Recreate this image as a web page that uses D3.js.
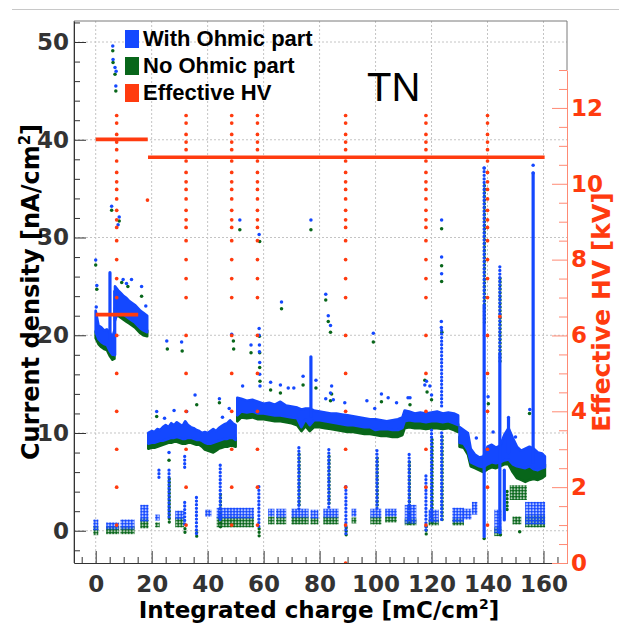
<!DOCTYPE html>
<html>
<head>
<meta charset="utf-8">
<script src="https://cdn.jsdelivr.net/npm/d3@7"></script>
<style>
  body { margin: 0; background: #fff; }
  svg text { font-family: "DejaVu Sans", sans-serif; }
</style>
</head>
<body>
<div class="viz"></div>
<script>
/* tick labels */
const xTicks = [0, 20, 40, 60, 80, 100, 120, 140, 160];
const yTicks = [0, 10, 20, 30, 40, 50];
const hvTicks = [0, 2, 4, 6, 8, 10, 12];

/* dense bands of points: [charge, low, high] per segment */
const blueBands = [
  [[0,20.3,22.5],[1,19.6,21.0],[2,19.3,20.8],[3,19.1,20.5],[4,19.0,20.6],[5,18.4,20.3],[6,18.0,19.8],[6.7,18.0,20.5]],
  [[6.9,21.5,25.0],[8,22.5,24.6],[9,22.3,24.3],[10,22.1,24.0],[11,21.9,23.8],[12,21.7,23.5],[13,21.5,23.3],[14,21.3,23.1],[15,21.0,22.8],[16,20.7,22.5],[17,20.5,22.3],[18.4,20.3,22.0]],
  [[18.8,8.9,10.0],[20,9.0,10.2],[21,9.0,10.1],[22,9.1,10.4],[23,9.2,10.3],[24,9.2,10.6],[25,9.3,10.8],[26,9.4,10.6],[27,9.5,11.0],[28,9.5,10.8],[29,9.6,11.1],[30,9.5,10.9],[31,9.4,10.7],[32,9.4,11.2],[33,9.5,10.8],[34,9.5,10.6],[35,9.4,10.5],[36,9.3,10.3],[37,9.3,10.2],[38,9.2,10.0],[39,9.0,10.1],[40,8.9,10.0],[41,8.9,10.2],[42,9.0,10.4],[43,9.1,10.2],[44,9.2,10.5],[45,9.3,10.7],[46,9.4,10.9],[47,9.4,11.0],[48,9.5,11.3],[49,9.5,11.0],[50,9.3,10.8]],
  [[50.6,11.8,13.6],[52,12.2,13.5],[54,12.1,13.3],[56,12.2,13.4],[58,12.0,13.2],[60,12.0,13.0],[62,11.9,13.1],[64,11.8,12.9],[66,11.8,13.2],[68,11.7,12.8],[70,11.6,12.7],[72,11.5,12.6],[73.5,10.6,12.4],[75,11.4,12.5],[76.5,10.8,12.5],[78,11.3,12.3],[80,11.3,12.2],[82,11.2,12.1],[84,11.1,12.0],[86,11.0,12.0],[88,10.9,11.9],[90,10.8,11.8],[92,10.8,11.7],[94,10.7,11.6],[96,10.6,11.5],[98,10.6,11.4],[100,10.3,11.4],[102,10.4,11.3],[104,10.4,11.2],[106,10.3,11.3],[108,10.3,11.4],[109.6,10.5,11.6],[110.4,11.2,12.3],[112,11.3,12.2],[114,11.2,12.0],[116,11.2,12.1],[118,11.1,12.0],[120,11.2,12.1],[122,11.2,12.2],[124,11.1,12.0],[126,11.2,12.1],[128,11.0,12.0],[129.5,10.8,11.8]],
  [[130,9.0,10.6],[131.5,8.9,10.3],[133,8.2,10.0],[134,7.0,8.4],[135.5,6.8,7.8],[137,6.6,7.5],[138.5,6.5,7.6],[140,6.8,8.6],[141.5,7.0,8.8],[143,6.9,8.5],[144.5,7.0,8.7],[146,7.2,9.8],[147.5,7.3,10.5],[149,6.8,9.5],[150.5,6.6,8.6],[152,6.5,8.2],[153.5,6.4,8.4],[155,6.6,8.6],[156.5,6.3,8.4],[158,6.2,8.0],[159.5,6.4,7.9],[160.5,6.5,7.6]]
];
const greenBands = [
  [[0,19.7,20.4],[1,19.1,19.8],[2,18.8,19.5],[3,18.6,19.3],[4,18.5,19.2],[5,17.9,18.6],[6,17.5,18.2],[6.7,17.6,18.4]],
  [[6.9,21.9,22.8],[8,22.0,22.7],[9,21.8,22.5],[10,21.6,22.3],[11,21.4,22.1],[12,21.2,21.9],[13,21.0,21.7],[14,20.8,21.5],[15,20.5,21.2],[16,20.2,20.9],[17,20.0,20.7],[18.4,19.9,20.5]],
  [[18.8,8.4,9.0],[20,8.5,9.1],[21,8.5,9.1],[22,8.6,9.2],[23,8.7,9.3],[24,8.8,9.4],[25,8.9,9.5],[26,9.0,9.6],[27,9.0,9.7],[28,9.1,9.7],[29,9.1,9.8],[30,9.0,9.7],[31,8.9,9.6],[32,8.9,9.6],[33,9.0,9.6],[34,9.0,9.6],[35,8.9,9.5],[36,8.8,9.4],[37,8.8,9.4],[38,8.6,9.3],[39,8.3,9.1],[40,8.2,9.0],[41,8.1,9.0],[42,8.0,9.1],[43,8.2,9.1],[44,8.4,9.2],[45,8.5,9.3],[46,8.6,9.4],[47,8.6,9.5],[48,8.7,9.6],[49,8.7,9.6],[50,8.6,9.5]],
  [[50.6,11.2,12.3],[52,11.6,12.5],[54,11.5,12.4],[56,11.6,12.5],[58,11.4,12.3],[60,11.4,12.2],[62,11.3,12.1],[64,11.2,12.0],[66,11.2,12.0],[68,11.1,11.9],[70,11.0,11.8],[72,10.8,11.7],[73.5,10.2,11.2],[75,10.7,11.6],[76.5,10.2,11.4],[78,10.6,11.5],[80,10.6,11.4],[82,10.5,11.3],[84,10.4,11.2],[86,10.3,11.1],[88,10.2,11.0],[90,10.1,10.9],[92,10.1,10.9],[94,10.0,10.8],[96,9.9,10.7],[98,9.9,10.7],[100,9.8,10.6],[102,9.7,10.5],[104,9.7,10.5],[106,9.6,10.4],[108,9.6,10.5],[109.6,9.8,10.7],[110.4,10.5,11.4],[112,10.6,11.4],[114,10.5,11.3],[116,10.5,11.3],[118,10.4,11.2],[120,10.5,11.3],[122,10.5,11.3],[124,10.4,11.2],[126,10.5,11.3],[128,10.3,11.1],[129.5,10.1,10.9]],
  [[130,8.6,9.6],[131.5,8.5,9.4],[133,7.8,9.2],[134,6.6,7.4],[135.5,6.4,7.2],[137,6.2,7.0],[138.5,6.0,6.9],[140,6.3,7.6],[141.5,6.5,7.7],[143,6.4,7.5],[144.5,6.6,7.6],[146,6.8,8.2],[147.5,6.8,8.6],[149,6.0,7.8],[150.5,5.4,7.2],[152,5.2,7.0],[153.5,5.0,6.8],[155,5.2,7.0],[156.5,5.3,7.3],[158,5.2,7.0],[159.5,5.4,6.9],[160.5,5.6,6.8]]
];

/* low clusters (HV off): [from, to, low, high] */
const blueClusters = [[-0.3,0.4,0.2,1.0],[4.3,7.8,0.3,0.7],[9.4,13.3,0.3,1.0],[16.5,18.3,1.1,2.5],[21.8,22.3,1.2,1.5],[29,31,1.3,1.9],[39.7,40.8,1.6,2.0],[43.8,56,1.4,2.2],[62.2,63.3,1.6,2.1],[65,67.5,1.5,2.1],[70.5,75.5,1.5,2.1],[77.3,79,1.4,2.0],[81.9,86.2,1.5,2.1],[92,92.6,1.6,2.1],[98.7,101.5,1.5,2.1],[104,107,1.6,2.1],[111,114,0.9,2.5],[119.5,122,1.0,2.0],[128,131,1.0,2.2],[131.5,133.7,1.3,2.1],[135,135.8,1.8,2.8],[143,144.4,-0.1,2.0],[154,160,0.8,2.8]];
const greenClusters = [[-0.3,0.4,-0.3,0.3],[4.3,7.8,-0.2,0.3],[9.4,13.3,-0.2,0.3],[16.5,18.3,0.4,1.1],[21.8,22.3,0.5,0.7],[29,31,0.5,1.2],[43.8,56,0.5,1.3],[62.2,63.3,0.8,1.3],[65,67.5,0.8,1.3],[70.5,75.5,0.8,1.3],[77.3,79,0.8,1.2],[81.9,86.2,0.8,1.3],[92,92.6,0.9,1.2],[98.7,101.5,0.8,1.3],[104,107,1.0,1.3],[111,114,0.7,1.1],[119.5,122,0.7,1.0],[128,131,0.7,1.1],[143,144.4,-0.4,0.2],[149.5,151.5,0.8,1.3],[154,160,0.5,1.4],[148.5,153.5,3.3,4.5]];

/* vertical runs: [charge, low, high] */
const blueCols = [[5.1,19.5,26.4],[6.8,18.0,24.5],[76.9,11.7,17.8],[138.8,-0.6,23],[144.4,-0.2,18],[156.3,7,36.6],[147.5,8,11.6],[146,1.1,6.2]];
const blueDotCols = [[138.8,23,37.1],[144.4,18,27],[123.6,12.4,20.5],[123.6,0.8,10.0],[120,0.8,10.3],[22.6,5.2,6.2],[26.2,1.1,6.2],[31.8,6.2,7.6],[31.8,0.4,2.9],[36,-0.6,3.4],[44.5,1.1,6.7],[58.3,0.1,4.5],[72.6,2.1,8.5],[83.3,2.1,8.3],[89.4,-0.4,4.5],[100.5,2.1,8.2],[112,0.9,7.8],[118,-0.2,5.6]];
const greenDotCols = [[138.9,21,35.5],[144.5,17,26],[26.3,0.6,5.5],[31.9,-0.5,0.4],[36.1,-0.9,0],[44.6,0.4,3.9],[58.4,-0.6,0.4],[72.7,2.5,8.0],[83.4,2.5,7.8],[89.5,-0.6,0.5],[100.6,2.5,7.6],[118.1,-0.4,0.6],[120.2,0.6,9.5],[123.8,1.0,9.8],[147,2.1,4.2],[112.1,0.7,7.2]];

/* single points: [charge, current density] */
const bluePts = [[6.1,49.6],[6.2,48.2],[6.9,47.4],[7.3,47.0],[7.2,45.5],[5.7,33.2],[8.4,32.1],[8.0,31.3],
  [0,27.7],[0.4,25.1],[9.8,25.7],[11,25.3],[12.8,25.7],[16.4,25.0],[17.9,23.0],[0.2,22.9],
  [25.4,19.4],[30.7,19.3],[48.6,20.1],[21.8,12.2],[28,12.3],[32.5,12.2],[35.5,13.9],[44.2,13.5],[47.7,12.5],[52.5,14.8],[26.2,8.0],[45.3,11.6],[24.6,11.5],
  [51.5,31.8],[58.4,30.3],[76.9,31.8],
  [55.5,19.0],[62.5,15.2],[66,14.9],[68.8,14.6],[70.8,14.6],[74.1,15.8],[78.7,15.4],[82.2,13.5],[83.9,14.1],[96.9,13.3],[99.2,20.2],[102.1,14.0],[104.5,13.6],[107.5,13.1],[111.6,13.6],[84.3,14.8],[84.9,13.4],[89,13.1],[99.7,12.5],[112.3,13.6],
  [66.4,23.4],[82.2,24.2],[83.1,22.0],[83.9,21.0],
  [58.4,20.7],[58.4,20.0],[58.5,19.0],[58.5,18.3],[58.6,17.2],[58.6,16.0],[58.7,14.8],
  [117.6,14.9],[119.4,14.8],[120,13.9],[118.2,15.3],
  [123.5,21.4],[123.5,20.8],[123.6,26.3],[123.6,28.0],[123.6,31.8],
  [156.3,37.4],[156.3,36.6],[138.8,37.1],[155.1,12.4],[140.2,13.7],[136,9.5],[142,10.1],[150,9.6]];
const greenPts = [[6.1,49.1],[6.2,47.9],[6.9,46.7],[7.2,45.0],[5.7,32.8],[8.4,31.7],
  [0,27.2],[0.4,24.7],[9.3,25.4],[11.5,25.0],[16.4,24.0],
  [25.6,18.6],[30.9,18.4],[49.2,19.4],[49.3,18.6],[21.8,11.7],[36.1,12.9],[44.2,13.1],[26.2,7.2],
  [51.5,30.8],[58.6,29.6],[76.9,30.8],
  [55.5,18.2],[62.5,14.4],[66,14.1],[74.1,14.9],[78.7,14.6],[83.9,13.3],[99.2,19.3],[102.1,13.2],[84.3,14.0],[112.3,12.9],
  [66.4,22.7],[82.2,23.6],[83.1,21.4],[83.9,20.3],
  [58.5,19.9],[58.6,18.2],[58.6,16.7],[58.7,15.3],
  [117.6,15.4],[118.4,14.2],[120,13.4],
  [123.6,25.5],[123.6,27.1],[123.6,30.9],[123.7,20.3],
  [140.3,13.0],[155,12.0],[151.5,-0.1],[138.8,-0.8],[144.6,-0.4]];

/* effective HV [kV] */
const hvLines = [[0,18.6,11.17],[0,15.2,6.55],[18.7,160.4,10.7]];
const hvRampCharges = [7.5, 32.3, 48.6, 57.8, 89.3, 118, 140];
const hvRamp = [1,2,3,4,5,6,7,7.5,8,8.5,8.85,9.05,9.3,9.6,9.85,10.05,10.3,10.6,10.9,11.1,11.3,11.6,11.8];
const hvPts = [[89.3,0],[18.5,9.57],[144.4,6.5]];

const blue = "#1448ff", green = "#08661a", red = "#ff3b0f";

var svg = d3.select(".viz")
  .append("svg")
  .attr("width", 619)
  .attr("height", 624);

/* scales */
var x = d3.scaleLinear().domain([-7.75, 168.4]).range([74, 567]);
var y = d3.scaleLinear().domain([-3.3, 52.15]).range([563, 21]);
var yHV = d3.scaleLinear().domain([0, 13]).range([563, 70]);

svg.append("line")
  .attr("x1", 12).attr("x2", 619).attr("y1", 9.5).attr("y2", 9.5)
  .attr("stroke", "#c8c8c8");

var defs = svg.append("defs");
defs.append("clipPath").attr("id", "frameclip")
  .append("rect").attr("x", 74).attr("y", 21).attr("width", 493).attr("height", 542);
// speckled fill for the sparse clusters
[["dots-blue", blue], ["dots-green", green]].forEach(function (p) {
  var pat = defs.append("pattern").attr("id", p[0])
    .attr("width", 3.1).attr("height", 3.0).attr("patternUnits", "userSpaceOnUse");
  pat.append("circle").attr("cx", 1.55).attr("cy", 1.5).attr("r", 1.5).attr("fill", p[1]);
});

/* grid */
var grid = svg.append("g").attr("stroke", "#c4c4c4").attr("stroke-dasharray", "2,2");
grid.selectAll("line.gx").data(xTicks).enter().append("line")
  .attr("x1", d => x(d)).attr("x2", d => x(d)).attr("y1", 21).attr("y2", 563);
grid.selectAll("line.gy").data(yTicks).enter().append("line")
  .attr("x1", 74).attr("x2", 567).attr("y1", d => y(d)).attr("y2", d => y(d));

var plot = svg.append("g").attr("clip-path", "url(#frameclip)");

function drawSeries(bands, clusters, cols, dotCols, pts, color, pattern, phase) {
  var g = plot.append("g");
  var area = d3.area().x(d => x(d[0])).y0(d => y(d[1])).y1(d => y(d[2]));
  g.selectAll("path").data(bands).enter().append("path")
    .attr("d", area)
    .attr("fill", color).attr("stroke", color)
    .attr("stroke-width", 2.6).attr("stroke-linejoin", "round");
  g.selectAll("rect").data(clusters).enter().append("rect")
    .attr("x", d => x(d[0]) - 1.6).attr("width", d => x(d[1]) - x(d[0]) + 3.2)
    .attr("y", d => y(d[3]) - 1.5).attr("height", d => y(d[2]) - y(d[3]) + 3)
    .attr("fill", "url(#" + pattern + ")");
  g.selectAll("line.col").data(cols).enter().append("line")
    .attr("class", "col")
    .attr("x1", d => x(d[0])).attr("x2", d => x(d[0]))
    .attr("y1", d => y(d[2])).attr("y2", d => y(d[1]))
    .attr("stroke", color).attr("stroke-width", 3.2).attr("stroke-linecap", "round");
  g.selectAll("line.dcol").data(dotCols).enter().append("line")
    .attr("class", "dcol")
    .attr("x1", d => x(d[0])).attr("x2", d => x(d[0]))
    .attr("y1", d => y(d[2])).attr("y2", d => y(d[1]))
    .attr("stroke", color).attr("stroke-width", 3.3).attr("stroke-linecap", "round")
    .attr("stroke-dasharray", "0,3.6").attr("stroke-dashoffset", phase);
  g.selectAll("circle").data(pts).enter().append("circle")
    .attr("cx", d => x(d[0])).attr("cy", d => y(d[1])).attr("r", 1.75)
    .attr("fill", color);
}

drawSeries(greenBands, greenClusters, [], greenDotCols, greenPts, green, "dots-green", 1.8);
drawSeries(blueBands, blueClusters, blueCols, blueDotCols, bluePts, blue, "dots-blue", 0);

/* effective HV */
var hv = plot.append("g");
hv.selectAll("line").data(hvLines).enter().append("line")
  .attr("x1", d => x(d[0])).attr("x2", d => x(d[1]))
  .attr("y1", d => yHV(d[2])).attr("y2", d => yHV(d[2]))
  .attr("stroke", red).attr("stroke-width", 3.6);
var ramps = hvRampCharges.flatMap(c => hvRamp.map(v => [c, v])).concat(hvPts);
hv.selectAll("circle").data(ramps).enter().append("circle")
  .attr("cx", d => x(d[0])).attr("cy", d => yHV(d[1])).attr("r", 1.85)
  .attr("fill", red);

/* frame */
svg.append("path")
  .attr("d", "M74,563V21H567V70")
  .attr("fill", "none").attr("stroke", "#7a7a7a");

/* axes */
function styleAxis(g, size) {
  g.attr("font-family", "DejaVu Sans").attr("font-size", size).attr("font-weight", "bold");
}
var xMinor = d3.range(-5, 166, 5).filter(v => v % 20 !== 0);
var yMinor = d3.range(-2, 53, 2).filter(v => v % 10 !== 0);
var hvMinor = d3.range(0.5, 13.01, 0.5).filter(v => v % 2 !== 0);

var gx = svg.append("g").attr("transform", "translate(0,563)")
  .call(d3.axisBottom(x).tickValues(xTicks).tickSize(-12).tickSizeOuter(0).tickPadding(12.5));
styleAxis(gx, 23);
gx.attr("color", "#333");
svg.append("g").attr("transform", "translate(0,563)").attr("color", "#333")
  .call(d3.axisBottom(x).tickValues(xMinor).tickSize(-6).tickFormat(""))
  .select(".domain").remove();

var gy = svg.append("g").attr("transform", "translate(74,0)")
  .call(d3.axisLeft(y).tickValues(yTicks).tickSize(-12).tickSizeOuter(0).tickPadding(5));
styleAxis(gy, 23);
gy.attr("color", "#333");
svg.append("g").attr("transform", "translate(74,0)").attr("color", "#333")
  .call(d3.axisLeft(y).tickValues(yMinor).tickSize(-6).tickFormat(""))
  .select(".domain").remove();

var ghv = svg.append("g").attr("transform", "translate(567,0)")
  .call(d3.axisRight(yHV).tickValues(hvTicks).tickSize(-15).tickSizeOuter(0).tickPadding(4));
styleAxis(ghv, 23);
ghv.attr("color", red);
ghv.selectAll("line").attr("stroke", "#ff8a74");
ghv.select(".domain").attr("stroke", "#ff8a74");
svg.append("g").attr("transform", "translate(567,0)").attr("color", "#ff8a74")
  .call(d3.axisRight(yHV).tickValues(hvMinor).tickSize(-8).tickFormat(""))
  .select(".domain").remove();

/* axis titles */
var xt = svg.append("text")
  .attr("x", 319).attr("y", 618)
  .attr("text-anchor", "middle")
  .attr("font-size", 23).attr("font-weight", "bold").attr("fill", "#000");
xt.append("tspan").text("Integrated charge [mC/cm");
xt.append("tspan").attr("font-size", 14).attr("dy", -9).text("2");
xt.append("tspan").attr("dy", 9).text("]");

var yt = svg.append("text")
  .attr("transform", "translate(39,292) rotate(-90)")
  .attr("text-anchor", "middle")
  .attr("font-size", 24).attr("font-weight", "bold").attr("fill", "#000");
yt.append("tspan").text("Current density [nA/cm");
yt.append("tspan").attr("font-size", 15).attr("dy", -9).text("2");
yt.append("tspan").attr("dy", 9).text("]");

svg.append("text")
  .attr("transform", "translate(610,312) rotate(-90)")
  .attr("text-anchor", "middle")
  .attr("font-size", 25).attr("font-weight", "bold").attr("fill", red)
  .text("Effective HV [kV]");

/* label */
svg.append("text")
  .attr("x", 367).attr("y", 101)
  .style("font-family", "'Liberation Sans', Arial, sans-serif")
  .attr("font-size", 40).attr("fill", "#000")
  .text("TN");

/* legend */
const legendNames = ["With Ohmic part", "No Ohmic part", "Effective HV"];
const legendColors = [blue, green, red];
var legend = svg.append("g");
legend.selectAll("rect").data(legendNames).enter().append("rect")
  .attr("x", 125).attr("y", (d, i) => 30 + i * 27)
  .attr("width", 14).attr("height", 18)
  .attr("fill", (d, i) => legendColors[i]);
legend.selectAll("text").data(legendNames).enter().append("text")
  .attr("x", 143).attr("y", (d, i) => 46 + i * 27)
  .style("font-family", "'Liberation Sans', Arial, sans-serif")
  .attr("font-size", 22).attr("font-weight", "bold").attr("fill", "#000")
  .text(d => d);
</script>
</body>
</html>
